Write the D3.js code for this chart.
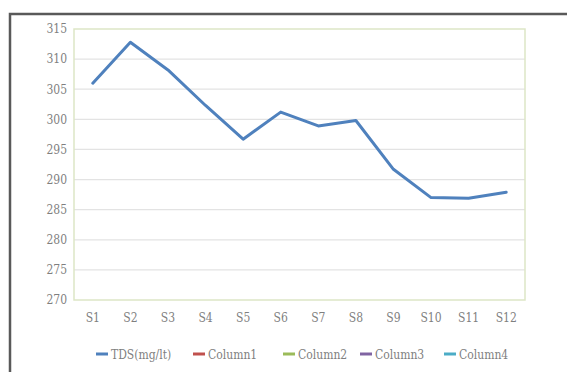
<!DOCTYPE html>
<html>
<head>
<meta charset="utf-8">
<script src="https://cdn.jsdelivr.net/npm/d3@7"></script>
<style>
  html, body { margin: 0; padding: 0; background: #fff; }
  svg { display: block; }
  text { font-family: "DejaVu Serif Condensed", "Liberation Serif", serif; fill: #7f7f7f; }
</style>
</head>
<body>
<script>
// Sampling sites and measured TDS
const sites = ["S1","S2","S3","S4","S5","S6","S7","S8","S9","S10","S11","S12"];
const tds = [306.0, 312.8, 308.2, 302.3, 296.7, 301.2, 298.9, 299.8, 291.7, 287.0, 286.9, 287.9];
const yTicks = [270, 275, 280, 285, 290, 295, 300, 305, 310, 315];
const seriesNames = ["TDS(mg/lt)", "Column1", "Column2", "Column3", "Column4"];
const seriesColors = ["#4f81bd", "#c0504d", "#9bbb59", "#8064a2", "#4bacc6"];

const W = 567, H = 372;
const plot = { left: 74, top: 29, right: 525, bottom: 300 };

const svg = d3.select("body").append("svg").attr("width", W).attr("height", H);

// Outer chart frame (top and left edges visible)
svg.append("path")
  .attr("d", `M10,${H} L10,14 L${W},14`)
  .attr("fill", "none").attr("stroke", "#595959").attr("stroke-width", 2.5);

const x = d3.scaleBand().domain(sites).range([plot.left, plot.right]);
const y = d3.scaleLinear().domain([270, 315]).range([plot.bottom, plot.top]);

// Horizontal gridlines
svg.append("g").selectAll("line").data(yTicks.filter(t => t > 270 && t < 315)).join("line")
  .attr("x1", plot.left).attr("x2", plot.right)
  .attr("y1", d => y(d)).attr("y2", d => y(d))
  .attr("stroke", "#e3e3e3").attr("stroke-width", 1.2);

// Plot area border
svg.append("rect")
  .attr("x", plot.left).attr("y", plot.top)
  .attr("width", plot.right - plot.left).attr("height", plot.bottom - plot.top)
  .attr("fill", "none").attr("stroke", "#dde6c6").attr("stroke-width", 1.5);

// Y axis labels
const yAxis = d3.axisLeft(y).tickValues(yTicks).tickSize(0).tickPadding(7);
const gy = svg.append("g").attr("transform", `translate(${plot.left},0)`).call(yAxis);
gy.select(".domain").remove();
gy.selectAll("text").style("font-size", "12px").style("font-family", null).attr("fill", "#7f7f7f");

// X axis labels
const xAxis = d3.axisBottom(x).tickSize(0).tickPadding(13);
const gx = svg.append("g").attr("transform", `translate(0,${plot.bottom})`).call(xAxis);
gx.select(".domain").remove();
gx.selectAll("text").style("font-size", "12px").attr("fill", "#7f7f7f");
svg.selectAll("g").attr("font-family", null);

// TDS line
const line = d3.line()
  .x((d, i) => x(sites[i]) + x.bandwidth() / 2)
  .y(d => y(d));
svg.append("path").datum(tds)
  .attr("d", line)
  .attr("fill", "none").attr("stroke", seriesColors[0])
  .attr("stroke-width", 3).attr("stroke-linejoin", "round").attr("stroke-linecap", "round");

// Legend
const legendX = [96, 193, 283, 360, 444];
const lg = svg.append("g").selectAll("g").data(seriesNames).join("g")
  .attr("transform", (d, i) => `translate(${legendX[i]},354)`);
lg.append("line").attr("x1", 0).attr("x2", 12).attr("y1", 0).attr("y2", 0)
  .attr("stroke", (d, i) => seriesColors[i]).attr("stroke-width", 3);
lg.append("text").attr("x", 15).attr("y", 4.5).style("font-size", "12px").text(d => d);
</script>
</body>
</html>
